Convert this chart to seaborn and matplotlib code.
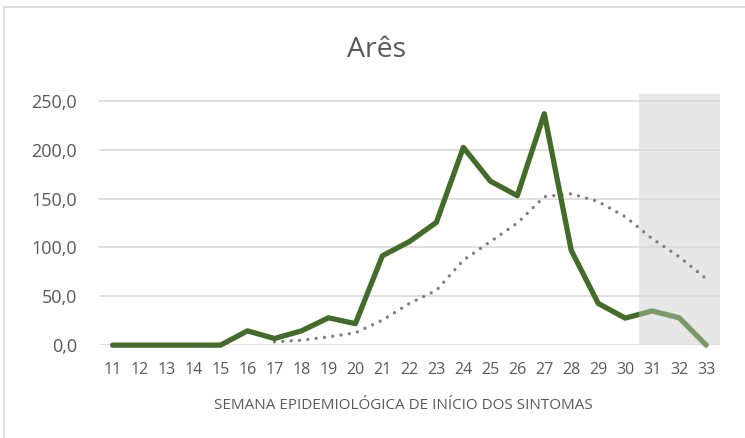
import matplotlib
matplotlib.use("Agg")
import matplotlib.pyplot as plt
import matplotlib.patches as mpatches
import seaborn as sns
import pandas as pd

# Data
weeks = list(range(11, 34))
cases = [0, 0, 0, 0, 0, 14.6, 6.8, 14.6, 28.0, 22.0, 91.5, 106.0, 125.7,
         202.5, 168.0, 153.0, 237.0, 97.0, 42.7, 27.7, 35.0, 28.0, 0]
trend_weeks = list(range(17, 34))
trend = [3.4, 5.0, 8.5, 12.6, 25.6, 42.7, 56.0, 87.0, 106.0, 125.0, 152.0,
         155.0, 147.0, 131.5, 109.0, 90.5, 68.0]
yticks = [0, 50, 100, 150, 200, 250]
shade_start, shade_end = 30.5, 33.5

df = pd.DataFrame({"semana": weeks, "casos": cases})
df_trend = pd.DataFrame({"semana": trend_weeks, "media": trend})

sns.set_style("white")
plt.rcParams["font.family"] = ["Open Sans", "DejaVu Sans"]

text_color = "#595959"
dark_green = "#436B2A"
light_green = "#7C9A69"

fig = plt.figure(figsize=(7.45, 4.38), dpi=100)
ax = fig.add_axes([0.133, 0.212, 0.833, 0.573])

# grey band for the most recent weeks
ax.axvspan(shade_start, shade_end, ymin=0, ymax=1, color="#E7E7E7", lw=0, zorder=0)

for y in yticks:
    ax.axhline(y, color="#D9D9D9", lw=1.2, zorder=1)

trend_line = sns.lineplot(data=df_trend, x="semana", y="media", ax=ax,
                          color="#7F7F7F", lw=2.4, zorder=2).lines[-1]
trend_line.set_linestyle((0, (0.01, 2.5)))
trend_line.set_dash_capstyle("round")

dark = sns.lineplot(data=df, x="semana", y="casos", ax=ax, color=dark_green,
                    lw=3.8, zorder=3).lines[-1]
dark.set_solid_capstyle("round")
dark.set_clip_path(mpatches.Rectangle((10, -50), shade_start - 10, 400,
                                      transform=ax.transData))
sns.lineplot(data=df, x="semana", y="casos", ax=ax, color=light_green,
             lw=3.8, zorder=3)
light = ax.lines[-1]
light.set_clip_path(mpatches.Rectangle((shade_start, -50), 5, 400,
                                       transform=ax.transData))

ax.set_xlim(10.5, 33.5)
ax.set_ylim(0, 257)
ax.set_xticks(weeks)
ax.set_xticklabels([str(w) for w in weeks], fontsize=11.5, color=text_color)
ax.set_yticks(yticks)
ax.set_yticklabels([f"{v:.1f}".replace(".", ",") for v in yticks],
                   fontsize=13, color=text_color)
ax.tick_params(axis="y", length=0, pad=16)
ax.tick_params(axis="x", length=0, pad=12)
for s in ax.spines.values():
    s.set_visible(False)

ax.set_xlabel("SEMANA EPIDEMIOLÓGICA DE INÍCIO DOS SINTOMAS", fontsize=11,
              color=text_color)
ax.xaxis.set_label_coords(0.49, -0.21)
ax.set_ylabel("")
fig.text(0.505, 0.885, "Arês", ha="center", va="center", fontsize=20.5,
         color=text_color)

# chart area border
fig.add_artist(plt.Line2D([0.006, 0.006], [0, 0.985], color="#D9D9D9", lw=1.2,
                          transform=fig.transFigure))
fig.add_artist(plt.Line2D([0.006, 1], [0.985, 0.985], color="#D9D9D9", lw=1.2,
                          transform=fig.transFigure))

fig.savefig("out.png", dpi=100)
